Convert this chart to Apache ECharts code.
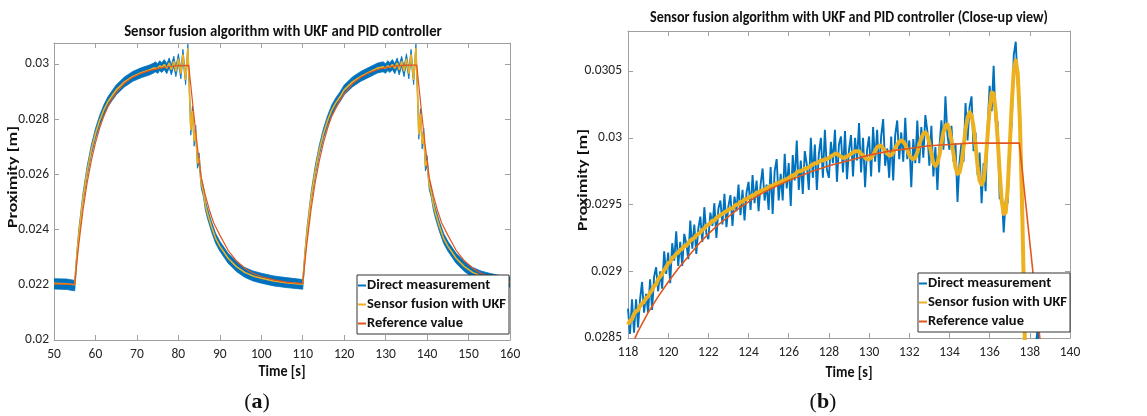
<!DOCTYPE html>
<html>
<head>
<meta charset="utf-8">
<script src="https://cdn.jsdelivr.net/npm/echarts@6/dist/echarts.min.js"></script>
<style>
html,body{margin:0;padding:0;background:#fff;}
#chart{width:1147px;height:416px;}
</style>
</head>
<body>
<div id="chart"></div>
<script>
// ---------- Data: panel (a) full view ----------
const xTicksA = [50, 60, 70, 80, 90, 100, 110, 120, 130, 140, 150, 160];
const yTicksA = [0.02, 0.022, 0.024, 0.026, 0.028, 0.03];
const refA = [[50,0.02203],[55,0.02202],[55.5,0.02279],[56,0.02349],[57,0.02471],[58,0.02570],[59,0.02649],[60,0.02714],[61,0.02767],[62,0.02810],[63,0.02845],[64,0.02873],[65,0.02896],[67,0.02930],[69,0.02952],[71,0.02966],[73,0.02976],[75,0.02983],[77.5,0.02990],[80,0.02994],[82.5,0.02995],[83.5,0.02850],[84.5,0.02710],[85.5,0.02590],[86.5,0.02525],[87.5,0.02470],[88.5,0.02425],[90,0.02380],[92,0.02325],[94,0.02287],[96,0.02260],[98,0.02242],[100,0.02230],[103,0.02218],[106,0.02210],[110,0.02204],[110.5,0.02279],[111,0.02349],[112,0.02471],[113,0.02570],[114,0.02649],[115,0.02714],[116,0.02767],[117,0.02810],[118,0.02840],[119,0.02869],[120,0.02892],[122,0.02928],[124,0.02952],[126,0.02968],[128,0.02979],[130,0.02987],[132,0.02992],[135,0.02996],[137.5,0.02996],[138.5,0.02850],[139.5,0.02710],[140.5,0.02590],[141.5,0.02525],[142.5,0.02470],[143.5,0.02425],[145,0.02380],[147,0.02325],[149,0.02287],[151,0.02260],[153,0.02242],[155,0.02230],[158,0.02218],[160,0.02213]];
const ukfA = [[50,0.02205],[53,0.02204],[55,0.02200],[55.5,0.02300],[56,0.02385],[57,0.02515],[58,0.02612],[59,0.02688],[60,0.02748],[61,0.02795],[62,0.02833],[63,0.02863],[64,0.02885],[65,0.02906],[67,0.02935],[69,0.02955],[71,0.02968],[73,0.02978],[74,0.02985],[74.4,0.02990],[75.0,0.02984],[75.5,0.02994],[76.0,0.02987],[76.6,0.02998],[77.2,0.02984],[77.8,0.03004],[78.3,0.02979],[78.9,0.03010],[79.4,0.02973],[80.0,0.03019],[80.6,0.02965],[81.1,0.03035],[81.75,0.02942],[82.3,0.03058],[82.7,0.02890],[83.0,0.02760],[83.4,0.02830],[83.8,0.02720],[84.2,0.02760],[84.6,0.02640],[85.0,0.02660],[85.5,0.02570],[86.0,0.02540],[86.5,0.02490],[87,0.02460],[88,0.02410],[89,0.02368],[90,0.02340],[92,0.02296],[94,0.02266],[96,0.02245],[98,0.02232],[100,0.02224],[103,0.02214],[106,0.02208],[110,0.02202],[110.5,0.02300],[111,0.02385],[112,0.02515],[113,0.02612],[114,0.02688],[115,0.02748],[116,0.02795],[117,0.02833],[118,0.02860],[119,0.02881],[120,0.02906],[122,0.02935],[124,0.02955],[126,0.02970],[128,0.02985],[129.38,0.02990],[129.96,0.02984],[130.54,0.02994],[131.04,0.02987],[131.62,0.02998],[132.2,0.02984],[132.78,0.03004],[133.28,0.02979],[133.86,0.03010],[134.44,0.02973],[135.02,0.03019],[135.6,0.02965],[136.13,0.03035],[136.75,0.02942],[137.31,0.03058],[137.7,0.02890],[138.0,0.02745],[138.4,0.02820],[138.8,0.02710],[139.2,0.02750],[139.6,0.02630],[140.0,0.02650],[140.5,0.02565],[141,0.02535],[141.5,0.02490],[142,0.02460],[143,0.02410],[144,0.02368],[145,0.02340],[147,0.02296],[149,0.02266],[151,0.02245],[153,0.02232],[155,0.02224],[158,0.02214],[160,0.02210]];
// noisy direct measurement in the full view: upper and lower edge of the blue band
const measUpA = [[50,0.02222],[53,0.02221],[55,0.02216],[55.5,0.02318],[56,0.02403],[57,0.02533],[58,0.02630],[59,0.02706],[60,0.02766],[61,0.02813],[62,0.02851],[63,0.02881],[64,0.02903],[65,0.02924],[67,0.02953],[69,0.02973],[71,0.02986],[73,0.02996],[74,0.03003],[74.4,0.03008],[75.0,0.03001],[75.5,0.03012],[76.0,0.03004],[76.6,0.03016],[77.2,0.03001],[77.8,0.03022],[78.3,0.02996],[78.9,0.03028],[79.4,0.02990],[80.0,0.03037],[80.6,0.02982],[81.1,0.03053],[81.75,0.02958],[82.3,0.03072],[82.7,0.02908],[83.0,0.02778],[83.4,0.02848],[83.8,0.02738],[84.2,0.02778],[84.6,0.02658],[85.0,0.02678],[85.5,0.02588],[86.0,0.02558],[86.5,0.02508],[87,0.02478],[88,0.02428],[89,0.02386],[90,0.02358],[92,0.02314],[94,0.02284],[96,0.02263],[98,0.02250],[100,0.02242],[103,0.02232],[106,0.02226],[110,0.02219],[110.5,0.02318],[111,0.02403],[112,0.02533],[113,0.02630],[114,0.02706],[115,0.02766],[116,0.02813],[117,0.02851],[118,0.02878],[119,0.02899],[120,0.02924],[122,0.02953],[124,0.02973],[126,0.02988],[128,0.03003],[129.38,0.03008],[129.96,0.03001],[130.54,0.03012],[131.04,0.03004],[131.62,0.03016],[132.2,0.03001],[132.78,0.03022],[133.28,0.02996],[133.86,0.03028],[134.44,0.02990],[135.02,0.03037],[135.6,0.02982],[136.13,0.03053],[136.75,0.02958],[137.31,0.03072],[137.7,0.02908],[138.0,0.02763],[138.4,0.02838],[138.8,0.02728],[139.2,0.02768],[139.6,0.02648],[140.0,0.02668],[140.5,0.02583],[141,0.02553],[141.5,0.02508],[142,0.02478],[143,0.02428],[144,0.02386],[145,0.02358],[147,0.02314],[149,0.02284],[151,0.02263],[153,0.02250],[155,0.02242],[158,0.02232],[160,0.02228]];
const measLoA = [[50,0.02185],[53,0.02183],[55,0.02178],[55.5,0.02282],[56,0.02367],[57,0.02497],[58,0.02594],[59,0.02670],[60,0.02730],[61,0.02777],[62,0.02815],[63,0.02845],[64,0.02867],[65,0.02888],[67,0.02917],[69,0.02937],[71,0.02950],[73,0.02960],[74,0.02967],[74.4,0.02972],[75.0,0.02966],[75.5,0.02976],[76.0,0.02969],[76.6,0.02980],[77.2,0.02965],[77.8,0.02986],[78.3,0.02960],[78.9,0.02992],[79.4,0.02954],[80.0,0.03001],[80.6,0.02946],[81.1,0.03017],[81.75,0.02925],[82.3,0.03040],[82.7,0.02872],[83.0,0.02742],[83.4,0.02812],[83.8,0.02702],[84.2,0.02742],[84.6,0.02622],[85.0,0.02642],[85.5,0.02552],[86.0,0.02522],[86.5,0.02472],[87,0.02442],[88,0.02392],[89,0.02350],[90,0.02322],[92,0.02278],[94,0.02248],[96,0.02227],[98,0.02214],[100,0.02206],[103,0.02196],[106,0.02190],[110,0.02184],[110.5,0.02282],[111,0.02367],[112,0.02497],[113,0.02594],[114,0.02670],[115,0.02730],[116,0.02777],[117,0.02815],[118,0.02842],[119,0.02863],[120,0.02888],[122,0.02917],[124,0.02937],[126,0.02952],[128,0.02967],[129.38,0.02972],[129.96,0.02966],[130.54,0.02976],[131.04,0.02969],[131.62,0.02980],[132.2,0.02965],[132.78,0.02986],[133.28,0.02960],[133.86,0.02992],[134.44,0.02954],[135.02,0.03001],[135.6,0.02946],[136.13,0.03017],[136.75,0.02925],[137.31,0.03040],[137.7,0.02872],[138.0,0.02727],[138.4,0.02802],[138.8,0.02692],[139.2,0.02732],[139.6,0.02612],[140.0,0.02632],[140.5,0.02547],[141,0.02517],[141.5,0.02472],[142,0.02442],[143,0.02392],[144,0.02350],[145,0.02322],[147,0.02278],[149,0.02248],[151,0.02227],[153,0.02214],[155,0.02206],[158,0.02196],[160,0.02192]];

// ---------- Data: panel (b) close-up ----------
const xTicksB = [118, 120, 122, 124, 126, 128, 130, 132, 134, 136, 138, 140];
const yTicksB = [0.0285, 0.029, 0.0295, 0.03, 0.0305];
const tStartB = 118, tStepB = 0.1;
const ukfB = [0.02860,0.02863,0.02864,0.02868,0.02870,0.02871,0.02874,0.02876,0.02877,0.02880,
0.02881,0.02884,0.02886,0.02889,0.02890,0.02894,0.02896,0.02898,0.02901,0.02903,
0.02906,0.02907,0.02910,0.02911,0.02913,0.02914,0.02916,0.02917,0.02919,0.02919,
0.02921,0.02923,0.02924,0.02925,0.02927,0.02928,0.02929,0.02931,0.02932,0.02934,
0.02935,0.02936,0.02938,0.02938,0.02940,0.02941,0.02942,0.02943,0.02944,0.02945,
0.02946,0.02947,0.02947,0.02949,0.02950,0.02950,0.02952,0.02952,0.02954,0.02954,
0.02955,0.02956,0.02957,0.02957,0.02959,0.02959,0.02960,0.02961,0.02961,0.02962,
0.02963,0.02964,0.02964,0.02965,0.02966,0.02966,0.02967,0.02968,0.02968,0.02969,
0.02970,0.02971,0.02972,0.02972,0.02974,0.02975,0.02975,0.02976,0.02977,0.02977,
0.02978,0.02979,0.02980,0.02981,0.02981,0.02982,0.02983,0.02983,0.02984,0.02984,
0.02985,0.02986,0.02987,0.02988,0.02988,0.02987,0.02986,0.02985,0.02985,0.02986,
0.02987,0.02988,0.02989,0.02990,0.02990,0.02990,0.02988,0.02987,0.02985,0.02984,
0.02984,0.02985,0.02987,0.02990,0.02993,0.02994,0.02994,0.02992,0.02990,0.02988,
0.02987,0.02987,0.02989,0.02992,0.02995,0.02997,0.02998,0.02997,0.02995,0.02991,
0.02987,0.02985,0.02984,0.02985,0.02989,0.02995,0.03000,0.03003,0.03004,0.03002,
0.02996,0.02988,0.02981,0.02979,0.02981,0.02987,0.02996,0.03004,0.03009,0.03010,
0.03006,0.02998,0.02988,0.02978,0.02973,0.02974,0.02981,0.02993,0.03006,0.03015,
0.03019,0.03017,0.03008,0.02994,0.02979,0.02968,0.02965,0.02968,0.02982,0.03002,
0.03022,0.03034,0.03033,0.03020,0.02999,0.02974,0.02953,0.02943,0.02944,0.02962,
0.02993,0.03025,0.03050,0.03058,0.03048,0.03015,0.02960,0.02890,0.02810,0.02760,
0.02745,0.02760,0.02790,0.02815,0.02820,0.02800,0.02770];
const measB = [0.02872,0.02853,0.02879,0.02854,0.02879,0.02858,0.02879,0.02892,0.02869,0.02883,
0.02869,0.02894,0.02871,0.02896,0.02903,0.02885,0.02900,0.02887,0.02915,0.02898,
0.02914,0.02891,0.02921,0.02908,0.02930,0.02904,0.02922,0.02904,0.02928,0.02921,
0.02909,0.02938,0.02917,0.02935,0.02913,0.02932,0.02941,0.02922,0.02948,0.02928,
0.02924,0.02944,0.02934,0.02951,0.02925,0.02947,0.02953,0.02935,0.02958,0.02933,
0.02949,0.02957,0.02934,0.02956,0.02945,0.02965,0.02942,0.02961,0.02938,0.02959,
0.02967,0.02946,0.02972,0.02951,0.02968,0.02945,0.02965,0.02977,0.02953,0.02965,
0.02946,0.02978,0.02943,0.02975,0.02984,0.02953,0.02973,0.02953,0.02988,0.02962,
0.02981,0.02949,0.02987,0.02968,0.02998,0.02961,0.02983,0.02958,0.02990,0.02980,
0.02961,0.03000,0.02970,0.02995,0.02961,0.02988,0.03000,0.02970,0.03006,0.02976,
0.02970,0.02997,0.02981,0.03006,0.02967,0.02995,0.03001,0.02974,0.03005,0.02969,
0.02991,0.03002,0.02971,0.03000,0.02983,0.03011,0.02974,0.03000,0.02963,0.02991,
0.03001,0.02971,0.03008,0.02982,0.03006,0.02974,0.03001,0.03014,0.02979,0.02992,
0.02970,0.03001,0.02968,0.03002,0.03013,0.02984,0.03004,0.02982,0.03015,0.02984,
0.02998,0.02963,0.02999,0.02981,0.03013,0.02981,0.03008,0.02985,0.03017,0.03005,
0.02979,0.03009,0.02971,0.02993,0.02961,0.02993,0.03013,0.02991,0.03031,0.03002,
0.02991,0.03009,0.02982,0.02996,0.02952,0.02982,0.02996,0.02982,0.03026,0.02998,
0.03023,0.03031,0.02990,0.03004,0.02972,0.02989,0.02951,0.02981,0.02960,0.03009,
0.03039,0.03020,0.03054,0.03012,0.03012,0.02954,0.02960,0.02929,0.02954,0.02951,
0.02997,0.03010,0.03062,0.03072,0.03039,0.03027,0.02944,0.02894,0.02800,0.02750,
0.02740,0.02775,0.02810,0.02845,0.02858,0.02820,0.02760];
const refB = [[118,0.02838],[118.5,0.02855],[119,0.02869],[119.5,0.02881],[120,0.02892],[120.5,0.02902],[121,0.02911],[121.5,0.02920],[122,0.02928],[122.5,0.02935],[123,0.02941],[123.5,0.02947],[124,0.02952],[124.5,0.02957],[125,0.02961],[126,0.02968],[127,0.02974],[128,0.02979],[129,0.02983],[130,0.02987],[131,0.02990],[132,0.02992],[133,0.02994],[134,0.02995],[135,0.02996],[137.48,0.02996],[138.5,0.02850],[139,0.02785]];

const names = ['Direct measurement', 'Sensor fusion with UKF', 'Reference value'];
const colors = ['#0072BD', '#EDB120', '#E2561E'];

// ---------- Build ----------
const pairsB = arr => arr.map((v, i) => [+(tStartB + i * tStepB).toFixed(2), v]);
const FONT = "Carlito, 'Liberation Sans', sans-serif";
const SERIF = "'Liberation Serif','DejaVu Serif',serif";
const axisGray = '#a0a0a0';
const labelColor = '#262626';

function xAxes(grid, ticks, margin) {
  const min = ticks[0], max = ticks[ticks.length - 1], interval = ticks[1] - ticks[0];
  const base = {
    gridIndex: grid, type: 'value', min, max, interval,
    axisLine: {show: true, onZero: false, lineStyle: {color: axisGray, width: 1}},
    axisTick: {show: true, inside: true, length: 5, lineStyle: {color: axisGray}},
    splitLine: {show: false}
  };
  return [
    Object.assign({}, base, {position: 'bottom',
      axisLabel: {fontFamily: FONT, fontSize: 13.5, color: labelColor, margin}}),
    Object.assign({}, base, {position: 'top', axisLabel: {show: false}})
  ];
}
function yAxes(grid, ticks, max, margin) {
  const min = ticks[0], interval = +(ticks[1] - ticks[0]).toFixed(6);
  const base = {
    gridIndex: grid, type: 'value', min, max, interval,
    axisLine: {show: true, onZero: false, lineStyle: {color: axisGray, width: 1}},
    axisTick: {show: true, inside: true, length: 5, lineStyle: {color: axisGray}},
    splitLine: {show: false}
  };
  const shown = new Set(ticks.map(t => t.toFixed(5)));
  return [
    Object.assign({}, base, {position: 'left',
      axisLabel: {fontFamily: FONT, fontSize: 13.5, color: labelColor, margin,
        showMaxLabel: false,
        formatter: v => shown.has((+v).toFixed(5)) ? String(+(+v).toFixed(5)) : ''}}),
    Object.assign({}, base, {position: 'right', axisLabel: {show: false}})
  ];
}

const lineBase = {type: 'line', showSymbol: false, symbol: 'none', animation: false, clip: true, silent: true};

const series = [
  {type: 'custom', name: names[0], xAxisIndex: 0, yAxisIndex: 0, coordinateSystem: 'cartesian2d',
    data: measUpA, encode: {x: 0, y: 1}, clip: true, silent: true, animation: false,
    itemStyle: {color: colors[0]},
    renderItem: (params, api) => {
      if (params.dataIndex !== 0) return null;
      const pts = measUpA.map(p => api.coord(p)).concat(measLoA.slice().reverse().map(p => api.coord(p)));
      return {type: 'polygon', shape: {points: pts}, style: {fill: colors[0], stroke: colors[0], lineWidth: 0.8}};
    }},
  Object.assign({}, lineBase, {name: names[1], xAxisIndex: 0, yAxisIndex: 0, data: ukfA,
    lineStyle: {color: colors[1], width: 1.6}, itemStyle: {color: colors[1]}}),
  Object.assign({}, lineBase, {name: names[2], xAxisIndex: 0, yAxisIndex: 0, data: refA,
    lineStyle: {color: colors[2], width: 1.2}, itemStyle: {color: colors[2]}}),
  Object.assign({}, lineBase, {name: names[0], xAxisIndex: 2, yAxisIndex: 2, data: pairsB(measB),
    lineStyle: {color: colors[0], width: 1.9}, itemStyle: {color: colors[0]}}),
  Object.assign({}, lineBase, {name: names[1], xAxisIndex: 2, yAxisIndex: 2, data: pairsB(ukfB),
    lineStyle: {color: colors[1], width: 4, join: 'round'}, itemStyle: {color: colors[1]}}),
  Object.assign({}, lineBase, {name: names[2], xAxisIndex: 2, yAxisIndex: 2, data: refB,
    lineStyle: {color: colors[2], width: 1.6}, itemStyle: {color: colors[2]}})
];

const legendBase = {
  orient: 'vertical', data: names, icon: 'rect', itemWidth: 8, itemHeight: 2, itemGap: 0,
  backgroundColor: '#fff', borderColor: '#333', borderWidth: 1, padding: [1, 3, 1, 1],
  selectedMode: false,
  textStyle: {fontFamily: FONT, fontSize: 14.5, fontWeight: 'bold', color: '#111', padding: [0, 0, 0, -4], lineHeight: 19}
};

const txt = (x, y, text, opts, extra) => Object.assign({type: 'text', x, y, silent: true,
  style: Object.assign({text, fill: '#111', fontFamily: FONT, align: 'center', verticalAlign: 'middle'}, opts || {})}, extra || {});

const option = {
  backgroundColor: '#fff',
  animation: false,
  grid: [
    {left: 54, top: 43, width: 456, height: 297},
    {left: 628, top: 31, width: 442, height: 307}
  ],
  xAxis: xAxes(0, xTicksA, 8).concat(xAxes(1, xTicksB, 8)),
  yAxis: yAxes(0, yTicksA, 0.03076, 5).concat(yAxes(1, yTicksB, 0.0308, 6)),
  legend: [
    Object.assign({}, legendBase, {left: 357, top: 275}),
    Object.assign({}, legendBase, {left: 918, top: 273})
  ],
  series,
  graphic: [
    txt(283, 32, 'Sensor fusion algorithm with UKF and PID controller', {fontSize: 16, fontWeight: 'bold'}, {scaleX: 0.92}),
    txt(849, 18, 'Sensor fusion algorithm with UKF and PID controller (Close-up view)', {fontSize: 15.5, fontWeight: 'bold'}, {scaleX: 0.91}),
    txt(13, 177, 'Proximity [m]', {fontSize: 18, fontWeight: 'bold'}, {rotation: Math.PI / 2, scaleY: 0.8}),
    txt(583, 180, 'Proximity [m]', {fontSize: 18, fontWeight: 'bold'}, {rotation: Math.PI / 2, scaleY: 0.8}),
    txt(282, 372, 'Time [s]', {fontSize: 16, fontWeight: 'bold'}, {scaleX: 0.88}),
    txt(849, 373, 'Time [s]', {fontSize: 16, fontWeight: 'bold'}, {scaleX: 0.88}),
    txt(257, 402, '({b|a})', {fontFamily: SERIF, fontSize: 22,
      rich: {b: {fontWeight: 'bold', fontFamily: SERIF, fontSize: 22, fill: '#111'}}}),
    txt(823, 402, '({b|b})', {fontFamily: SERIF, fontSize: 22,
      rich: {b: {fontWeight: 'bold', fontFamily: SERIF, fontSize: 22, fill: '#111'}}})
  ]
};

const chart = echarts.init(document.getElementById('chart'), null, {renderer: 'canvas'});
chart.setOption(option);
</script>
</body>
</html>
